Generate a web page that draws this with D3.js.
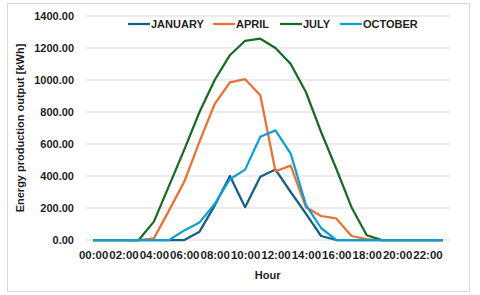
<!DOCTYPE html>
<html>
<head>
<meta charset="utf-8">
<script src="https://cdn.jsdelivr.net/npm/d3@7"></script>
<style>
  body { margin: 0; background: #fff; }
  svg text { font-family: "Liberation Sans", Arial, sans-serif; font-weight: bold; fill: #1f1f1f; }
</style>
</head>
<body>
<div id="chart"></div>
<script>
// hours of the day, one point per hour
const hours = ["00:00","01:00","02:00","03:00","04:00","05:00","06:00","07:00",
               "08:00","09:00","10:00","11:00","12:00","13:00","14:00","15:00",
               "16:00","17:00","18:00","19:00","20:00","21:00","22:00","23:00"];
const seriesNames = ["JANUARY", "APRIL", "JULY", "OCTOBER"];
const january = [0,0,0,0,0,0,0,52,215,400,205,395,440,300,165,25,0,0,0,0,0,0,0,0];
const april   = [0,0,0,0,10,185,365,615,850,985,1005,905,430,465,205,150,135,25,5,0,0,0,0,0];
const july    = [0,0,0,0,115,340,565,800,1000,1155,1245,1258,1200,1100,925,675,445,205,30,0,0,0,0,0];
const october = [0,0,0,0,0,0,60,110,225,380,440,645,685,540,220,75,0,0,0,0,0,0,0,0];
const yTicks  = [0,200,400,600,800,1000,1200,1400];

const W = 480, H = 295;
const colors = ["#156082", "#E97132", "#196B24", "#0F9ED5"];
const allSeries = [january, april, july, october];

const svg = d3.select("#chart").append("svg")
    .attr("width", W).attr("height", H);

// chart border
svg.append("rect")
    .attr("x", 7.5).attr("y", 3.5)
    .attr("width", 462).attr("height", 288)
    .attr("fill", "#fff").attr("stroke", "#d9d9d9");

const x = d3.scalePoint().domain(hours).range([85.5, 450.3]).padding(0.5);
const y = d3.scaleLinear().domain([0, 1400]).range([240, 16]);

// gridlines
svg.append("g")
  .selectAll("line").data(yTicks).join("line")
    .attr("x1", 85.5).attr("x2", 450)
    .attr("y1", d => y(d)).attr("y2", d => y(d))
    .attr("stroke", "#d9d9d9").attr("stroke-width", 1);

// y axis labels
const yAxis = svg.append("g")
    .attr("transform", "translate(80,0)")
    .call(d3.axisLeft(y).tickValues(yTicks).tickFormat(d3.format(".2f")).tickSize(0).tickPadding(6));
yAxis.select(".domain").remove();
yAxis.selectAll("text").style("font-size", "11px")
    .style("font-family", "'Liberation Sans', Arial, sans-serif").style("font-weight", "bold").attr("fill", "#1f1f1f");

// x axis labels, every other hour
const xAxis = svg.append("g")
    .attr("transform", "translate(0,245)")
    .call(d3.axisBottom(x).tickValues(hours.filter((d, i) => i % 2 === 0)).tickSize(0).tickPadding(6));
xAxis.select(".domain").remove();
xAxis.selectAll("text").style("font-size", "11.5px")
    .style("font-family", "'Liberation Sans', Arial, sans-serif").style("font-weight", "bold").attr("fill", "#1f1f1f");

// lines
const line = d3.line()
    .x((d, i) => x(hours[i]))
    .y(d => y(d));
svg.append("g")
  .selectAll("path").data(allSeries).join("path")
    .attr("d", d => line(d))
    .attr("fill", "none")
    .attr("stroke", (d, i) => colors[i])
    .attr("stroke-width", 2.25)
    .attr("stroke-linejoin", "round");

// axis titles
svg.append("text")
    .attr("x", 267.7).attr("y", 279)
    .attr("text-anchor", "middle")
    .style("font-size", "11px")
    .text("Hour");
svg.append("text")
    .attr("transform", "translate(24,128) rotate(-90)")
    .attr("text-anchor", "middle")
    .style("font-size", "11px")
    .text("Energy production output [kWh]");

// legend
const legendX = [128, 213, 280, 340];
const legend = svg.append("g").attr("transform", "translate(0,24)");
const item = legend.selectAll("g").data(seriesNames).join("g")
    .attr("transform", (d, i) => `translate(${legendX[i]},0)`);
item.append("line")
    .attr("x1", 0).attr("x2", 22)
    .attr("stroke", (d, i) => colors[i])
    .attr("stroke-width", 2.25);
item.append("text")
    .attr("x", 23).attr("y", 4)
    .style("font-size", "11px")
    .text(d => d);
</script>
</body>
</html>
